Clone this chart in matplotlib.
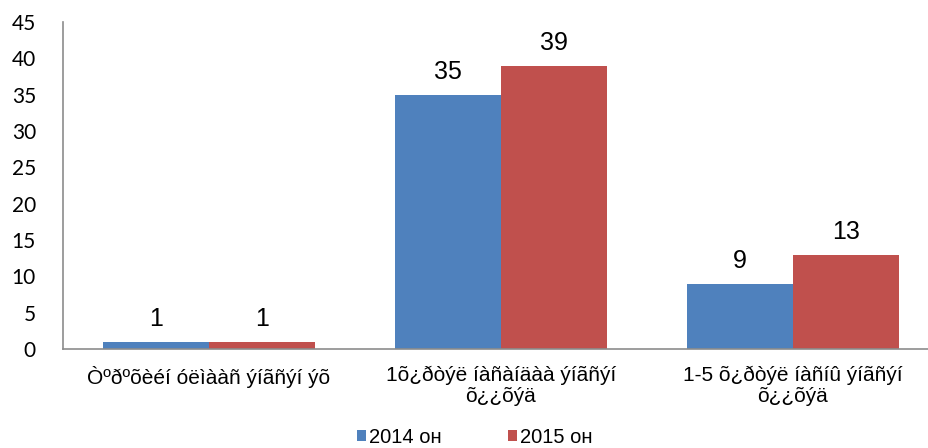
import matplotlib.pyplot as plt
import numpy as np

categories = [
    "Òºðºõèéí óëìààñ ýíãñýí ýõ",
    "1õ¿ðòýë íàñàíäàà ýíãñýí\nõ¿¿õýä",
    "1-5 õ¿ðòýë íàñíû ýíãñýí\nõ¿¿õýä",
]
series_names = ["2014 он", "2015 он"]
values_2014 = [1, 35, 9]
values_2015 = [1, 39, 13]
y_ticks = [0, 5, 10, 15, 20, 25, 30, 35, 40, 45]

BLUE = "#4F81BD"
RED = "#C0504D"
GRAY = "#8C8C8C"

W, H = 929, 448
fig = plt.figure(figsize=(W / 100, H / 100), dpi=100)
# plot area: x 63..939 px (runs past the right edge), y 22..349 px
ax = fig.add_axes([63 / W, (H - 349) / H, (939 - 63) / W, (349 - 22) / H])

x = np.arange(len(categories))
bw = 0.363
bars1 = ax.bar(x - bw / 2, values_2014, bw, color=BLUE, label=series_names[0])
bars2 = ax.bar(x + bw / 2, values_2015, bw, color=RED, label=series_names[1])

for bars in (bars1, bars2):
    for b in bars:
        ax.text(b.get_x() + b.get_width() / 2, b.get_height() + 1.5,
                f"{b.get_height():g}", ha="center", va="bottom",
                fontsize=18, family="Liberation Sans", color="black")

ax.set_xlim(-0.5, 2.5)
ax.set_ylim(0, 45)
ax.set_yticks(y_ticks)
ax.set_xticks(x)
ax.set_xticklabels(categories, family="Liberation Sans", fontsize=15,
                   linespacing=1.12)
for lab in ax.get_yticklabels():
    lab.set_family("Lato")
    lab.set_fontsize(15)

ax.tick_params(axis="y", length=0, pad=19.5)
ax.tick_params(axis="x", length=0, pad=12)
for side in ("top", "right"):
    ax.spines[side].set_visible(False)
for side in ("left", "bottom"):
    ax.spines[side].set_color(GRAY)
    ax.spines[side].set_linewidth(1.2)

fig.legend(handles=[bars1, bars2], labels=series_names, loc="center",
           bbox_to_anchor=(0.511, (H - 437) / H), ncol=2, frameon=False,
           prop={"family": "Liberation Sans", "size": 14.5},
           handlelength=0.45, handleheight=0.45, handletextpad=0.15,
           columnspacing=3.3, borderpad=0, borderaxespad=0)

fig.savefig("out.png", dpi=100)
